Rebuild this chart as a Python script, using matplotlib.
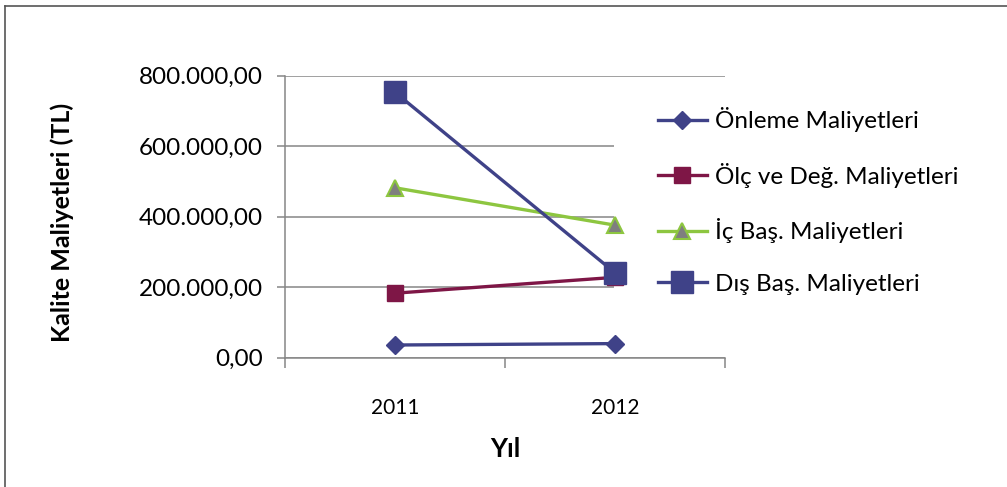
import matplotlib
matplotlib.use("Agg")
import matplotlib.pyplot as plt
from matplotlib.patches import Rectangle
from matplotlib.lines import Line2D
from matplotlib.ticker import FuncFormatter, FixedLocator

plt.rcParams['font.family'] = ['Lato', 'DejaVu Sans']

years = ["2011", "2012"]
onleme = [36000, 40000]
olc = [183000, 228000]
ic = [482000, 376000]
dis = [753000, 241000]
series_names = ["Önleme Maliyetleri", "Ölç ve Değ. Maliyetleri",
                "İç Baş. Maliyetleri", "Dış Baş. Maliyetleri"]
yticks = [0, 200000, 400000, 600000, 800000]

W, H = 1007, 487
fig = plt.figure(figsize=(W / 100, H / 100), dpi=100)
ax = fig.add_axes([285 / W, 1 - 357.7 / H, 440 / W, 282 / H])

x = list(range(len(years)))
navy = '#3F4288'
maroon = '#7E1646'
green = '#8DC640'
grey = '#868686'

ax.plot(x, onleme, color=navy, lw=2.4, marker='D', ms=9, mfc=navy, mec=navy,
        label=series_names[0], zorder=3)
ax.plot(x, olc, color=maroon, lw=2.4, marker='s', ms=11, mfc=maroon, mec=maroon,
        label=series_names[1], zorder=3)
ax.plot(x, ic, color=green, lw=2.4, marker='^', ms=12, mfc='#7F7F7F', mec=green,
        mew=1.5, label=series_names[2], zorder=3)
ax.plot(x, dis, color=navy, lw=2.4, marker='s', ms=16, mfc=navy, mec=navy,
        label=series_names[3], zorder=4)

ax.set_xlim(-0.5, len(years) - 0.5)
ax.set_ylim(0, 800000)

def fmt(v, pos):
    s = f"{v:,.2f}"
    return s.replace(",", "X").replace(".", ",").replace("X", ".")

ax.yaxis.set_major_locator(FixedLocator(yticks))
ax.yaxis.set_major_formatter(FuncFormatter(fmt))
ax.set_xticks(x)
ax.set_xticklabels(years)
ax.set_xticks([-0.5, 0.5, 1.5], minor=True)
ax.tick_params(axis='x', which='major', length=0, pad=29, labelsize=15)
ax.tick_params(axis='x', which='minor', length=7, width=1.1, color=grey, direction='out')
ax.tick_params(axis='y', which='major', length=6, width=1.1, color=grey,
               direction='out', pad=10, labelsize=17.5)

for s in ['top', 'right']:
    ax.spines[s].set_visible(False)
for s in ['left', 'bottom']:
    ax.spines[s].set_color(grey)
    ax.spines[s].set_linewidth(1.1)

ax.set_axisbelow(True)
ax.grid(axis='y', color=grey, lw=1.1)

# white legend area covering gridlines
rect = Rectangle((614 / W, 1 - 310 / H), (995 - 614) / W, (310 - 95) / H,
                 transform=fig.transFigure, facecolor='white', edgecolor='none',
                 zorder=1.5, clip_on=False)
ax.add_patch(rect)

leg = ax.legend(loc='center left', bbox_to_anchor=(658 / W, 1 - 201 / H),
                bbox_transform=fig.transFigure, frameon=False, fontsize=17.5,
                borderpad=0, borderaxespad=0, handlelength=2.0,
                handletextpad=0.33, labelspacing=1.25)
leg.set_zorder(5)

fig.text(505 / W, 1 - 449 / H, "Yıl", ha='center', va='center',
         fontsize=19, fontweight='bold')
fig.text(62 / W, 1 - 222 / H, "Kalite Maliyetleri (TL)", ha='center',
         va='center', rotation=90, fontsize=18, fontweight='bold')

fig.add_artist(Line2D([5 / W, 1], [1 - 5.5 / H, 1 - 5.5 / H],
                      transform=fig.transFigure, color='#555555', lw=1.2))
fig.add_artist(Line2D([5 / W, 5 / W], [0, 1 - 5.5 / H],
                      transform=fig.transFigure, color='#555555', lw=1.2))

fig.savefig("out.png", dpi=100)
